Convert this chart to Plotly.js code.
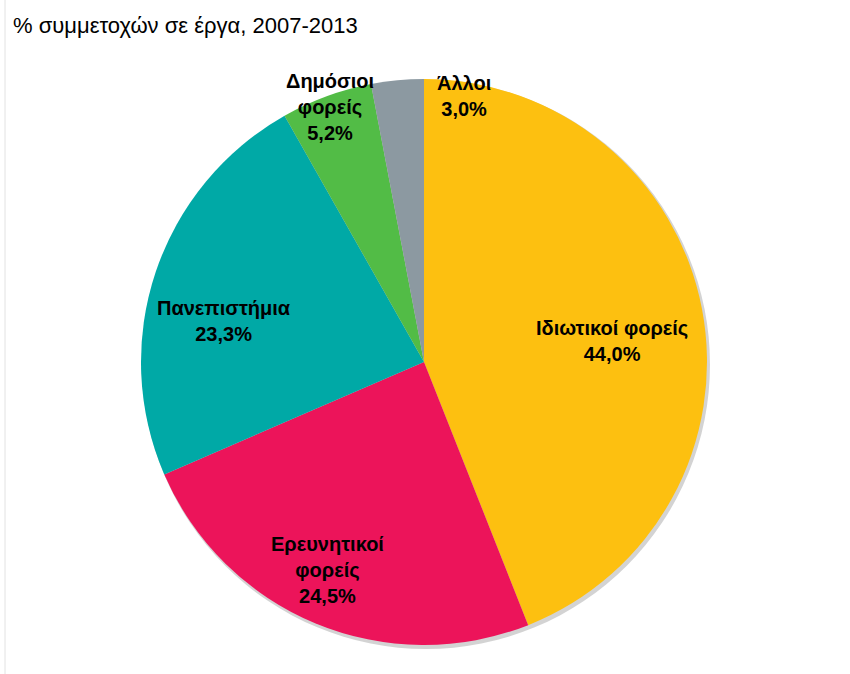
<!DOCTYPE html>
<html lang="el">
    <head>
        <meta charset="UTF-8">
        <title>% συμμετοχών σε έργα, 2007-2013</title>
        <script src="https://cdn.plot.ly/plotly-3.0.1.min.js"></script>
        <style>
            body { margin: 0; }
            #plot { width: 850px; height: 674px; }
        </style>
    </head>
    <body>

        <div id="plot"></div>

        <script>
        // Data
        const labels = ['Ιδιωτικοί φορείς', 'Ερευνητικοί φορείς', 'Πανεπιστήμια', 'Δημόσιοι φορείς', 'Άλλοι'];
        const labelLines = ['Ιδιωτικοί φορείς', 'Ερευνητικοί<br>φορείς', 'Πανεπιστήμια', 'Δημόσιοι<br>φορείς', 'Άλλοι'];
        const shares = [44.0, 24.5, 23.3, 5.2, 3.0];
        const colors = ['#FDC010', '#EC145A', '#00A9A6', '#52BC46', '#8C99A1'];

        // Pie geometry (pixels)
        const W = 850, H = 674;
        const cx = 424, cy = 362, R = 283;

        // label placement: radius fraction and angle shift (deg) from slice middle
        const labelFrac = [0.67, 0.81, 0.72, 0.96, 0.95];
        const labelShift = [4.5, 2.5, -7, 0, 14];

        const annotations = [];
        let cum = 0;
        shares.forEach((v, i) => {
            const mid = (cum + v / 2) / 100 * 360 + labelShift[i];
            cum += v;
            const a = mid * Math.PI / 180;
            const r = R * labelFrac[i];
            const px = cx + r * Math.sin(a);
            const py = cy - r * Math.cos(a);
            annotations.push({
                text: '<b>' + labelLines[i] + '<br>' + v.toFixed(1).replace('.', ',') + '%</b>',
                x: px / W, y: 1 - py / H,
                xref: 'paper', yref: 'paper',
                xanchor: 'center', yanchor: 'middle',
                showarrow: false,
                font: { family: 'Liberation Sans, Arial, sans-serif', size: 20, color: '#000' }
            });
        });

        const trace = {
            type: 'pie',
            labels: labels,
            values: shares,
            sort: false,
            direction: 'clockwise',
            rotation: 0,
            textinfo: 'none',
            hoverinfo: 'label+percent',
            marker: { colors: colors, line: { color: '#ffffff', width: 0 } },
            domain: {
                x: [(cx - R) / W, (cx + R) / W],
                y: [1 - (cy + R) / H, 1 - (cy - R) / H]
            }
        };

        const layout = {
            width: W,
            height: H,
            margin: { l: 0, r: 0, t: 0, b: 0 },
            paper_bgcolor: '#ffffff',
            showlegend: false,
            title: {
                text: '% συμμετοχών σε έργα, 2007-2013',
                x: 13 / W, xanchor: 'left',
                y: 1 - 25 / H, yanchor: 'middle',
                font: { family: 'Liberation Sans, Arial, sans-serif', size: 22, color: '#000' }
            },
            shapes: [
                // soft drop shadow under the pie
                {
                    type: 'circle', layer: 'below', xref: 'paper', yref: 'paper',
                    x0: (cx - R + 1) / W, x1: (cx + R + 3) / W,
                    y0: 1 - (cy + R + 4) / H, y1: 1 - (cy - R + 1) / H,
                    fillcolor: '#b5b5b5', opacity: 0.6, line: { width: 0 }
                },
                // frame line on the left
                {
                    type: 'line', xref: 'paper', yref: 'paper',
                    x0: 5 / W, x1: 5 / W, y0: 0, y1: 1,
                    line: { color: '#e2e2e2', width: 1 }
                }
            ],
            annotations: annotations
        };

        Plotly.newPlot('plot', [trace], layout, { displayModeBar: false });
        </script>

    </body>
</html>
